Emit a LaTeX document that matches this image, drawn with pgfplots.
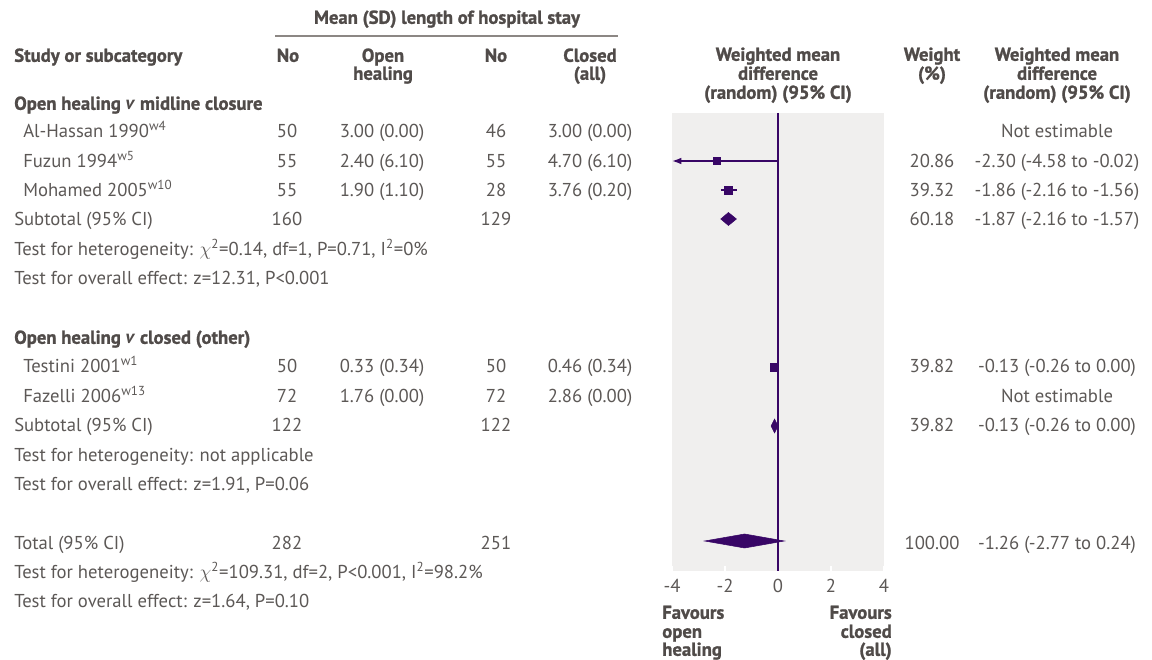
\documentclass[border=0pt]{standalone}
\usepackage{fontspec}
\setmainfont{PT Sans}[BoldFeatures={FakeBold=1.2}]
\usepackage{pgfplots}
\pgfplotsset{compat=1.18}
\usetikzlibrary{arrows.meta}
\definecolor{txt}{RGB}{92,88,86}
\definecolor{hdr}{RGB}{80,75,73}
\definecolor{pur}{RGB}{56,6,102}
\definecolor{bg}{RGB}{240,239,238}
\definecolor{rule}{RGB}{140,135,132}
\newcommand\fnt{\fontsize{14pt}{16pt}\selectfont}
\newcommand\bfnt{\fontsize{14pt}{16pt}\selectfont\bfseries}
\begin{document}
\begin{tikzpicture}
\begin{axis}[at={(504pt,66pt)}, anchor=south west, scale only axis,
  width=159pt, height=343.5pt,
  xmin=-4, xmax=4, ymin=-571, ymax=-113,
  axis background/.style={fill=bg},
  axis line style={draw=none},
  xtick={-4,-2,0,2,4}, xticklabels={-4,-2,0,2,4}, ytick=\empty,
  xtick pos=bottom, tick align=inside, major tick length=4pt,
  tick style={white, line width=1.2pt},
  xticklabel style={font=\fnt, text=txt, inner sep=0pt, yshift=-6pt},
  clip=false]
\addplot[pur, line width=1.3pt] coordinates {(0,-113) (0,-571)};
% Fuzun
\addplot[pur, line width=1.1pt, -{Latex[length=7pt,width=5pt]}] coordinates {(-0.02,-161) (-4,-161)};
\addplot[only marks, mark=square*, mark size=2.5pt, mark options={draw=pur, fill=pur}] coordinates {(-2.30,-161)};
% Mohamed
\addplot[pur, line width=1.1pt] coordinates {(-2.16,-190) (-1.56,-190)};
\addplot[only marks, mark=square*, mark size=3pt, mark options={draw=pur, fill=pur}] coordinates {(-1.86,-190)};
% Subtotal 1
\addplot[draw=pur, fill=pur] coordinates {(-2.16,-219) (-1.87,-212.5) (-1.57,-219) (-1.87,-225.5)} -- cycle;
% Testini
\addplot[only marks, mark=square*, mark size=3pt, mark options={draw=pur, fill=pur}] coordinates {(-0.13,-367)};
\addplot[white, line width=1.3pt] coordinates {(-0.26,-367) (0.00,-367)};
% Subtotal 2
\addplot[draw=pur, fill=pur] coordinates {(-0.26,-426) (-0.13,-419) (0.00,-426) (-0.13,-433)} -- cycle;
% Total
\addplot[draw=pur, fill=pur] coordinates {(-2.77,-541) (-1.26,-534) (0.24,-541) (-1.26,-548)} -- cycle;
\end{axis}
\begin{scope}[x=0.75pt, y=-0.75pt, shift={(0,494.25pt)},
  every node/.style={font=\fnt, text=txt, inner sep=0pt, yshift=-2.6pt},
  L/.style={anchor=mid west}, C/.style={anchor=mid}, R/.style={anchor=mid east},
  B/.style={font=\bfnt, text=hdr}]
\path (0,0) rectangle (1152,659);
% headers
\node[C,B] at (447,17) {Mean (SD) length of hospital stay};
\draw[rule, line width=0.9pt] (275,36) -- (618,36);
\node[L,B] at (14,55) {Study or subcategory};
\node[C,B] at (288,55) {No};
\node[C,B] at (383,55) {Open};
\node[C,B] at (383,73) {healing};
\node[C,B] at (496,55) {No};
\node[C,B] at (590,55) {Closed};
\node[C,B] at (590,73) {(all)};
\node[C,B] at (778,54) {Weighted mean};
\node[C,B] at (778,73) {difference};
\node[C,B] at (778,92) {(random) (95\% CI)};
\node[C,B] at (932,54) {Weight};
\node[C,B] at (932,73) {(\%)};
\node[C,B] at (1057,54) {Weighted mean};
\node[C,B] at (1057,73) {difference};
\node[C,B] at (1057,92) {(random) (95\% CI)};
\node[L,B] at (14,103) {Open healing \textit{v} midline closure};
\node[L,B] at (14,337) {Open healing \textit{v} closed (other)};
% rows group 1
\node[L] at (23,131) {Al-Hassan 1990\textsuperscript{w4}};
\node[C] at (287,131) {50};
\node[C] at (382,131) {3.00 (0.00)};
\node[C] at (496,131) {46};
\node[C] at (590,131) {3.00 (0.00)};
\node[C] at (1057,131) {Not estimable};
\node[L] at (23,160.5) {Fuzun 1994\textsuperscript{w5}};
\node[C] at (287,160.5) {55};
\node[C] at (382,160.5) {2.40 (6.10)};
\node[C] at (496,160.5) {55};
\node[C] at (590,160.5) {4.70 (6.10)};
\node[C] at (932,160.5) {20.86};
\node[C] at (1057,160.5) {-2.30 (-4.58 to -0.02)};
\node[L] at (23,190) {Mohamed 2005\textsuperscript{w10}};
\node[C] at (287,190) {55};
\node[C] at (382,190) {1.90 (1.10)};
\node[C] at (496,190) {28};
\node[C] at (590,190) {3.76 (0.20)};
\node[C] at (932,190) {39.32};
\node[C] at (1057,190) {-1.86 (-2.16 to -1.56)};
\node[L] at (14,219) {Subtotal (95\% CI)};
\node[C] at (287,219) {160};
\node[C] at (496,219) {129};
\node[C] at (932,219) {60.18};
\node[C] at (1057,219) {-1.87 (-2.16 to -1.57)};
\node[L] at (14,248.5) {Test for heterogeneity: $\chi$\textsuperscript{2}=0.14, df=1, P=0.71, I\textsuperscript{2}=0\%};
\node[L] at (14,278) {Test for overall effect: z=12.31, P<0.001};
% rows group 2
\node[L] at (23,366) {Testini 2001\textsuperscript{w1}};
\node[C] at (287,366) {50};
\node[C] at (382,366) {0.33 (0.34)};
\node[C] at (496,366) {50};
\node[C] at (590,366) {0.46 (0.34)};
\node[C] at (932,366) {39.82};
\node[C] at (1057,366) {-0.13 (-0.26 to 0.00)};
\node[L] at (23,395.5) {Fazelli 2006\textsuperscript{w13}};
\node[C] at (287,395.5) {72};
\node[C] at (382,395.5) {1.76 (0.00)};
\node[C] at (496,395.5) {72};
\node[C] at (590,395.5) {2.86 (0.00)};
\node[C] at (1057,395.5) {Not estimable};
\node[L] at (14,425) {Subtotal (95\% CI)};
\node[C] at (287,425) {122};
\node[C] at (496,425) {122};
\node[C] at (932,425) {39.82};
\node[C] at (1057,425) {-0.13 (-0.26 to 0.00)};
\node[L] at (14,454.5) {Test for heterogeneity: not applicable};
\node[L] at (14,484) {Test for overall effect: z=1.91, P=0.06};
% total
\node[L] at (14,542.5) {Total (95\% CI)};
\node[C] at (287,542.5) {282};
\node[C] at (496,542.5) {251};
\node[C] at (932,542.5) {100.00};
\node[C] at (1057,542.5) {-1.26 (-2.77 to 0.24)};
\node[L] at (14,571.5) {Test for heterogeneity: $\chi$\textsuperscript{2}=109.31, df=2, P<0.001, I\textsuperscript{2}=98.2\%};
\node[L] at (14,601) {Test for overall effect: z=1.64, P=0.10};
% favours
\node[L,B] at (662,612) {Favours};
\node[L,B] at (662,631) {open};
\node[L,B] at (662,649) {healing};
\node[R,B] at (892,612) {Favours};
\node[R,B] at (892,631) {closed};
\node[R,B] at (892,649) {(all)};
\end{scope}
\end{tikzpicture}
\end{document}
